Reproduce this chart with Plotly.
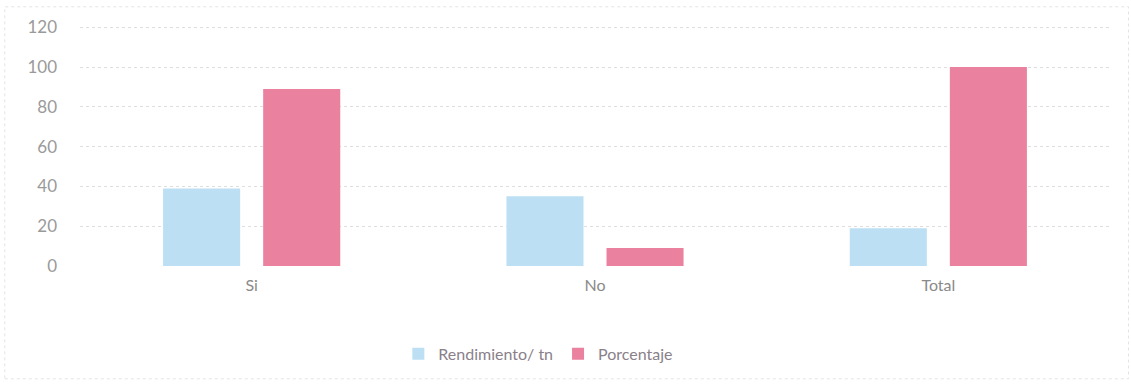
import plotly.graph_objects as go

categories = ["Si", "No", "Total"]
rendimiento = [39, 35, 19]
porcentaje = [89, 9, 100]
y_ticks = [0, 20, 40, 60, 80, 100, 120]

fig = go.Figure()
fig.add_trace(go.Bar(x=categories, y=rendimiento, name="Rendimiento/ tn",
                     marker=dict(color="#bcdff3", line=dict(width=0))))
fig.add_trace(go.Bar(x=categories, y=porcentaje, name="Porcentaje",
                     marker=dict(color="#ea819e", line=dict(width=0))))

fig.update_layout(
    width=1131, height=388,
    margin=dict(l=80, r=21, t=26, b=122),
    paper_bgcolor="white", plot_bgcolor="white",
    barmode="group", bargap=0.417, bargroupgap=0.23,
    font=dict(family="Lato, sans-serif", size=15, color="#8a8a8a"),
    showlegend=True,
    legend=dict(orientation="h", x=0.445, xanchor="center", y=-0.295, yanchor="top",
                font=dict(size=16, color="#8a7f8a"), itemwidth=30, traceorder="normal"),
    xaxis=dict(showgrid=False, showline=False, ticks="", ticklabelstandoff=8,
               tickfont=dict(size=16, color="#8a8a8a")),
    yaxis=dict(range=[0, 120.6], tickvals=y_ticks, showgrid=True, gridcolor="#dedede",
               griddash="dot", gridwidth=1, zeroline=False, showline=False, ticks="",
               ticklabelstandoff=22, tickfont=dict(size=17, color="#9a9a9a")),
    shapes=[dict(type="rect", xref="paper", yref="paper", x0=-0.073, x1=1.018, y0=-0.47, y1=1.08,
                 line=dict(color="#e4e4e4", width=1, dash="dot"))],
)

fig.write_html("out.html")
